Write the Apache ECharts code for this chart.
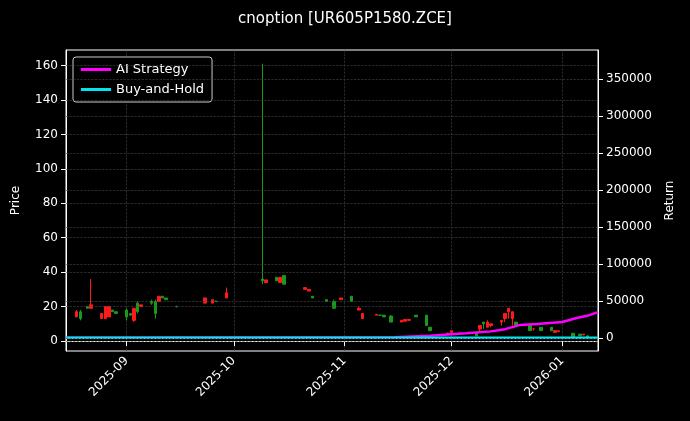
<!DOCTYPE html>
<html>
<head>
    <meta charset="UTF-8">
    <title>cnoption</title>
    <script src="https://cdn.jsdelivr.net/npm/echarts@6.0.0/dist/echarts.min.js"></script>
    <style>
        html, body { margin: 0; padding: 0; background: #000; }
        #chart { width: 690px; height: 421px; }
    </style>
</head>
<body>
<div id="chart"></div>
<script>
    // 蜡烛图数据 (日期, 开, 收, 低, 高)
    const candleDates = ['2025-08-18','2025-08-19','2025-08-21','2025-08-22','2025-08-25','2025-08-26','2025-08-27','2025-08-28','2025-08-29',
        '2025-09-01','2025-09-02','2025-09-03','2025-09-04','2025-09-05','2025-09-08','2025-09-09','2025-09-10','2025-09-11','2025-09-12','2025-09-15',
        '2025-09-23','2025-09-25','2025-09-26','2025-09-29','2025-10-09','2025-10-10','2025-10-13','2025-10-14','2025-10-15',
        '2025-10-21','2025-10-22','2025-10-23','2025-10-27','2025-10-29','2025-10-31','2025-11-03','2025-11-05','2025-11-06',
        '2025-11-10','2025-11-11','2025-11-12','2025-11-14','2025-11-17','2025-11-18','2025-11-19','2025-11-21','2025-11-24','2025-11-25',
        '2025-11-30','2025-12-01','2025-12-08','2025-12-09','2025-12-10','2025-12-11','2025-12-12','2025-12-15','2025-12-16','2025-12-17','2025-12-18','2025-12-19',
        '2025-12-23','2025-12-24','2025-12-26','2025-12-29','2025-12-30','2025-12-31','2026-01-04','2026-01-06','2026-01-07','2026-01-08'];
    const opens  = [14,17,20,19,13,13,14,18,17, 18,16,12,22,20,23,23,23,26,25,20, 22,22,23,25,36,34,37,34,38, 30,29,26,24,23,24,26,18,13,
        15,15,15,14.5,11,11.5,12,15,15,8, 4,5, 5,7,11,8,9,11,13,17,13,11, 9,7,8,8,5,5.5,4.5,4,3.5,3];
    const closes = [17,13,19,21,16,20,20,17,16, 14,15,19,17,21,22,16,26,25,24,20, 25,24,23,28,35,35.5,35,37,33, 31,30,25,23,19,25,23,19,16,
        15.5,15,14,11,12,12.5,12.5,14,9,6, 4.5,6, 3,9,10,11,10,12,16,19,17,9, 6,7,6,6,6,6,2,3,4,2];
    const lows   = [14,12,19,19,13,13,14,17,16, 12,15,11,16,20,21,13,23,25,24,19.5, 22,22,23,25,33,34,35,34,33, 30,29,25,23,19,24,23,18,13,
        15,14.5,14,11,11,11,12,14,9,6, 4,5, 3,5,7,8,8,9,11,13,9,9, 6,6,6,6,5,5,2,3,3.5,2];
    const highs  = [18,18,20,36,16,20,20,18,17, 19,16,19,23,21,24,24,26,26,25,20.5, 25,24,23.5,31,161,35.5,37,37,38, 31,30,26,24,24,25,26,20,16,
        15.5,15,15,15,12,12.5,12.5,15,15,8, 5,6, 5,9,10,12,10,12,16,19,17,11, 9,7.5,8,8,6,6,4.5,4,4,3];

    // 收益曲线 (右轴)
    const lineDates = ['2025-08-15','2025-11-15','2025-11-25','2025-12-05','2025-12-12','2025-12-16','2025-12-20','2025-12-25','2026-01-01','2026-01-05','2026-01-08','2026-01-11'];
    const aiReturn  = [500,1000,3000,6500,9000,12000,17500,19000,21600,27000,30000,35000];
    const bhReturn  = [500,500,500,500,500,500,500,500,500,500,500,500];

    const priceTicks = [0,20,40,60,80,100,120,140,160];
    const returnTicks = [0,50000,100000,150000,200000,250000,300000,350000];

    // 每日类目
    const days = [];
    for (let t = Date.UTC(2025,7,15); t <= Date.UTC(2026,0,11); t += 86400000) {
        days.push(new Date(t).toISOString().slice(0,10));
    }
    const candleData = days.map(d => {
        const i = candleDates.indexOf(d);
        return i < 0 ? '-' : [opens[i], closes[i], lows[i], highs[i]];
    });
    const toLine = vals => days.map(d => {
        const i = lineDates.indexOf(d);
        return i < 0 ? null : vals[i];
    });

    const chart = echarts.init(document.getElementById('chart'));
    const gridLineStyle = { color: '#444', type: 'dashed', width: 0.6 };
    chart.setOption({
        backgroundColor: '#000',
        animation: false,
        textStyle: { fontFamily: 'DejaVu Sans' },
        title: {
            text: 'cnoption [UR605P1580.ZCE]', left: 'center', top: 7,
            textStyle: { color: '#fff', fontSize: 15, fontWeight: 'normal' }
        },
        legend: {
            left: 73, top: 57, orient: 'vertical', itemGap: 7,
            padding: [6, 8], borderColor: '#ccc', borderWidth: 1, borderRadius: 3,
            backgroundColor: '#000',
            itemWidth: 30, itemHeight: 3, icon: 'rect',
            textStyle: { color: '#fff', fontSize: 13 },
            data: ['AI Strategy', 'Buy-and-Hold']
        },
        grid: { left: 66, right: 92, top: 50, bottom: 70, show: true, borderColor: '#fff', borderWidth: 1 },
        xAxis: {
            type: 'category', data: days, boundaryGap: false,
            axisLine: { lineStyle: { color: '#fff' } },
            axisTick: { interval: (i, v) => v.endsWith('-01'), lineStyle: { color: '#fff' } },
            axisLabel: {
                interval: (i, v) => v.endsWith('-01'), rotate: 45, color: '#fff', fontSize: 12,
                formatter: v => v.slice(0, 7)
            },
            splitLine: { show: true, interval: (i, v) => v.endsWith('-01'), lineStyle: gridLineStyle }
        },
        yAxis: [{
            type: 'value', min: -5.8, max: 169,
            name: 'Price', nameLocation: 'middle', nameGap: 44, nameTextStyle: { color: '#fff', fontSize: 12 },
            axisLine: { show: true, lineStyle: { color: '#fff' } },
            axisTick: { show: true, customValues: priceTicks, lineStyle: { color: '#fff' } },
            axisLabel: { customValues: priceTicks, color: '#fff', fontSize: 12 },
            splitLine: { show: false }
        }, {
            type: 'value', min: -17500, max: 389000,
            name: 'Return', nameLocation: 'middle', nameGap: 66, nameTextStyle: { color: '#fff', fontSize: 12 },
            axisLine: { show: true, lineStyle: { color: '#fff' } },
            axisTick: { show: true, customValues: returnTicks, lineStyle: { color: '#fff' } },
            axisLabel: { customValues: returnTicks, color: '#fff', fontSize: 12, formatter: v => String(v) },
            splitLine: { show: false }
        }],
        series: [{
            type: 'candlestick', yAxisIndex: 0, data: candleData, barWidth: 3,
            itemStyle: { color: '#ff1a1a', color0: '#1a9a1a', borderColor: '#ff1a1a', borderColor0: '#1a9a1a', borderWidth: 1 },
            markLine: {
                silent: true, symbol: 'none', label: { show: false },
                lineStyle: gridLineStyle,
                data: priceTicks.map(v => ({ yAxis: v }))
            }
        }, {
            name: 'AI Strategy', type: 'line', yAxisIndex: 1, data: toLine(aiReturn), connectNulls: true,
            showSymbol: false, lineStyle: { color: '#ff00ff', width: 2.5 }, itemStyle: { color: '#ff00ff' },
            markLine: {
                silent: true, symbol: 'none', label: { show: false },
                lineStyle: gridLineStyle,
                data: returnTicks.map(v => ({ yAxis: v }))
            }
        }, {
            name: 'Buy-and-Hold', type: 'line', yAxisIndex: 1, data: toLine(bhReturn), connectNulls: true,
            showSymbol: false, lineStyle: { color: '#00e5ee', width: 2.5 }, itemStyle: { color: '#00e5ee' }
        }]
    });
</script>
</body>
</html>
